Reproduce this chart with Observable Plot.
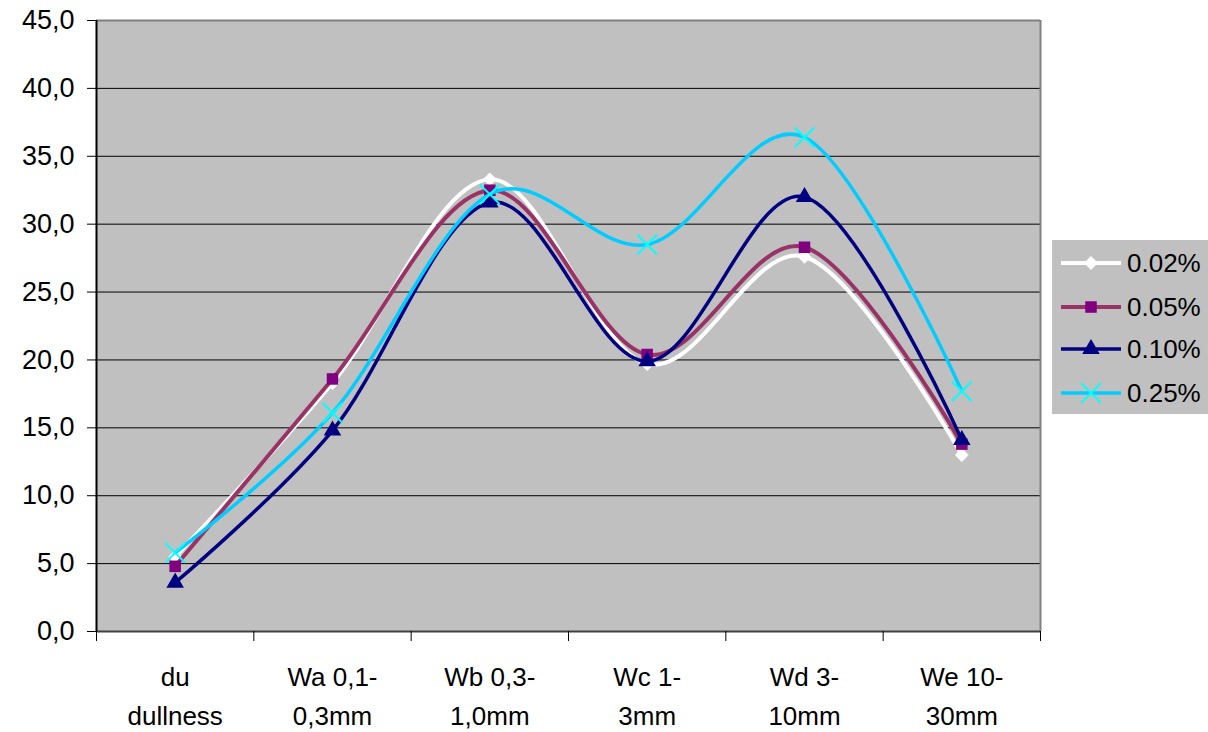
<!DOCTYPE html>
<html>
<head>
<meta charset="utf-8">
<script src="https://cdn.jsdelivr.net/npm/d3@7"></script>
<script src="https://cdn.jsdelivr.net/npm/@observablehq/plot@0.6"></script>
<style>
  body { margin: 0; background: #fff; font-family: "Liberation Sans", Arial, sans-serif; }
  #wrap { position: relative; width: 1208px; height: 732px; }
  #legend { position: absolute; left: 1052px; top: 240px; width: 156px; height: 174px; background: #C0C0C0; }
  .row { position: absolute; left: 0; height: 40px; display: flex; align-items: center; }
  .row span { font-size: 26px; color: #000; margin-left: 4px; }
</style>
</head>
<body>
<div id="wrap"></div>
<script>
const categories = ["du\ndullness", "Wa 0,1-\n0,3mm", "Wb 0,3-\n1,0mm", "Wc 1-\n3mm", "Wd 3-\n10mm", "We 10-\n30mm"];
const seriesNames = ["0.02%", "0.05%", "0.10%", "0.25%"];
const v002 = [5.5, 18.3, 33.3, 19.7, 27.6, 13.0];
const v005 = [4.8, 18.6, 32.5, 20.4, 28.3, 13.8];
const v010 = [3.6, 14.8, 31.6, 19.9, 32.0, 14.1];
const v025 = [5.8, 16.1, 32.2, 28.5, 36.4, 17.7];
const yTicks = [0, 5, 10, 15, 20, 25, 30, 35, 40, 45];

const styles = [
  {line: "#FFFFFF", lw: 4, marker: "square", rot: 45, mfill: "#FFFFFF", r: 5.5},
  {line: "#993366", lw: 4, marker: "square", rot: 0, mfill: "#800080", r: 6.5},
  {line: "#000080", lw: 3.5, marker: "triangle", rot: 0, mfill: "#000080", r: 6.5},
  {line: "#00CCFF", lw: 3.5, marker: "times", rot: 0, mfill: "#00FFFF", r: 9}
];
const values = [v002, v005, v010, v025];
const data = values.flatMap((arr, s) => arr.map((v, i) => ({s, name: seriesNames[s], i, x: i + 0.5, v})));

const fmt = d => d.toFixed(1).replace(".", ",");

const marks = [
  Plot.frame({fill: "#C0C0C0", stroke: null}),
  Plot.ruleY(yTicks.filter(d => d > 0 && d < 45), {stroke: "#000", strokeWidth: 1}),
  Plot.ruleY([45], {stroke: "#808080", strokeWidth: 2}),
  Plot.ruleX([6], {stroke: "#808080", strokeWidth: 2}),
  Plot.ruleY([0], {stroke: "#404040", strokeWidth: 2}),
  Plot.ruleX([0], {stroke: "#000", strokeWidth: 2}),
  Plot.axisY({ticks: yTicks, tickSize: 9, tickPadding: 13, tickFormat: fmt, fontSize: 27, stroke: "#000", label: null}),
  Plot.axisX({ticks: [0, 1, 2, 3, 4, 5, 6], tickSize: 10, tickFormat: () => "", stroke: "#000", label: null}),
  Plot.text(categories, {x: (d, i) => i + 0.5, y: () => 0, dy: 27, lineAnchor: "top", fontSize: 26, lineHeight: 1.5, fill: "#000"})
];
styles.forEach((st, s) => {
  const d = data.filter(e => e.s === s);
  marks.push(Plot.line(d, {x: "x", y: "v", stroke: st.line, strokeWidth: st.lw, curve: "cardinal"}));
  if (st.marker === "times") {
    marks.push(Plot.dot(d, {x: "x", y: "v", symbol: "times", r: st.r, stroke: st.mfill, strokeWidth: 2}));
  } else {
    marks.push(Plot.dot(d, {x: "x", y: "v", symbol: st.marker, r: st.r, rotate: st.rot, fill: st.mfill, stroke: null}));
  }
});

const chart = Plot.plot({
  width: 1208,
  height: 732,
  marginLeft: 96,
  marginRight: 168,
  marginTop: 20,
  marginBottom: 101,
  style: {fontFamily: "'Liberation Sans', Arial, sans-serif", background: "#fff", color: "#000"},
  x: {domain: [0, 6], axis: null},
  y: {domain: [0, 45], axis: null},
  marks
});
const wrap = document.getElementById("wrap");
wrap.appendChild(chart);

// Legend
const legend = document.createElement("div");
legend.id = "legend";
const rowTops = [3, 47, 89, 133];
styles.forEach((st, s) => {
  const row = document.createElement("div");
  row.className = "row";
  row.style.top = rowTops[s] + "px";
  row.style.left = "9px";
  const svg = d3.create("svg").attr("width", 62).attr("height", 40);
  svg.append("line").attr("x1", 0).attr("x2", 60).attr("y1", 20).attr("y2", 20)
    .attr("stroke", st.line).attr("stroke-width", st.lw);
  const symMap = {square: d3.symbolSquare, triangle: d3.symbolTriangle, times: d3.symbolTimes};
  const area = st.r * st.r * Math.PI;
  const p = svg.append("path").attr("transform", `translate(30,20) rotate(${st.rot})`).attr("d", d3.symbol(symMap[st.marker], area)());
  if (st.marker === "times") p.attr("fill", "none").attr("stroke", st.mfill).attr("stroke-width", 2);
  else p.attr("fill", st.mfill);
  row.appendChild(svg.node());
  const lab = document.createElement("span");
  lab.textContent = seriesNames[s];
  row.appendChild(lab);
  legend.appendChild(row);
});
wrap.appendChild(legend);
</script>
</body>
</html>
